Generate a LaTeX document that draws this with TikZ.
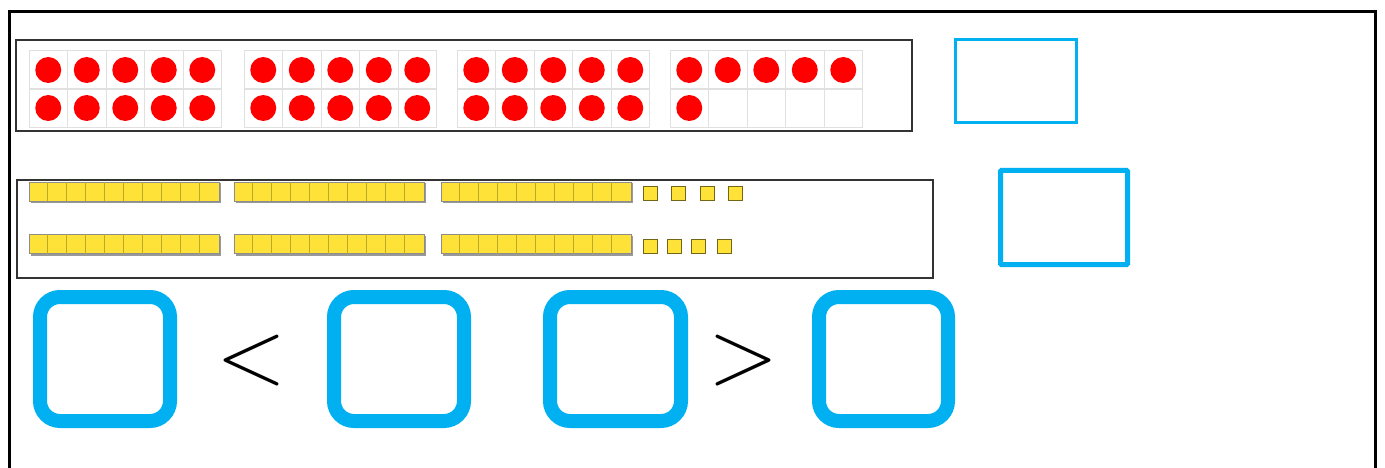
\documentclass[tikz,border=0pt]{standalone}
\usepackage{fontspec}
\usetikzlibrary{positioning}

\definecolor{cyanbox}{RGB}{0,176,240}
\definecolor{dotred}{RGB}{255,0,0}
\definecolor{rodyellow}{RGB}{255,226,55}

\tikzstyle{frame}    = [draw=black!80, line width=1.3pt]
\tikzstyle{cell}     = [draw=black!12, line width=0.8pt, minimum size=38.5pt, inner sep=0pt, outer sep=0pt]
\tikzstyle{dot}      = [circle, fill=dotred, minimum size=26pt, inner sep=0pt]
\tikzstyle{rod}      = [fill=rodyellow, draw=black!45, line width=0.8pt, minimum width=190pt, minimum height=19pt, inner sep=0pt]
\tikzstyle{rodline}  = [draw=rodyellow!75!black, line width=0.6pt]
\tikzstyle{unit}     = [fill=rodyellow, draw=rodyellow!45!black, line width=0.9pt, minimum size=14pt, inner sep=0pt]
\tikzstyle{answer}   = [draw=cyanbox, inner sep=0pt]
\tikzstyle{bigbox}   = [draw=cyanbox, line width=14pt, rounded corners=20pt, minimum height=124pt, inner sep=0pt]
\tikzstyle{sign}     = [inner sep=0pt, font=\fontsize{92}{92}\selectfont]

\begin{document}
\begin{tikzpicture}[x=1pt, y=-1pt]
  \useasboundingbox (0,0) rectangle (1385,468);
  % page frame, bottom edge cut off
  \draw[line width=3pt] (9.5,480) -- (9.5,11.5) -- (1375.5,11.5) -- (1375.5,480);

  % ten frames
  \draw[frame] (16,40) rectangle (912,131);
  \foreach \f/\fx in {1/29, 2/244, 3/457, 4/670}
    \foreach \r in {1,2}
      \foreach \c in {1,...,5}
        \node[cell] (f\f-\r\c) at (\fx+38.5*\c-19.25, 51+38*\r-19) {};
  \foreach \f in {1,2,3}
    \foreach \r in {1,2}
      \foreach \c in {1,...,5}
        \node[dot] at (f\f-\r\c) {};
  \foreach \c in {1,...,5}
    \node[dot] at (f4-1\c) {};
  \node[dot] at (f4-21) {};

  % tens and ones
  \draw[frame] (17,180) rectangle (933,278);
  \foreach \r/\ry in {1/191.5, 2/244}
    \foreach \k/\rx in {1/29, 2/234, 3/441} {
      \fill[black!40] (\rx+2,\ry-8) rectangle (\rx+192,\ry+11.5);
      \node[rod] (rod\r\k) at (\rx+95,\ry) {};
      \foreach \i in {1,...,9}
        \draw[rodline] ([xshift=19*\i pt]rod\r\k.north west) -- ([xshift=19*\i pt]rod\r\k.south west);
    }
  \foreach \u/\ux in {1/650, 2/678, 3/707, 4/735}
    \node[unit] (one1\u) at (\ux,193.5) {};
  \foreach \u/\ux in {1/650, 2/674, 3/698, 4/724}
    \node[unit] (one2\u) at (\ux,246) {};

  % answer boxes
  \node[answer, line width=3pt, minimum width=121pt, minimum height=83pt] (ans1) at (1016,81) {};
  \node[answer, line width=5pt, rounded corners=1pt, minimum width=127pt, minimum height=94pt] (ans2) at (1064,217.5) {};

  % comparison
  \node[bigbox, minimum width=130pt] (cmpa) at (105,359) {};
  \node[sign] (less) at (252,361) {<};
  \node[bigbox, minimum width=130pt] (cmpb) at (399,359) {};
  \node[bigbox, minimum width=131pt] (cmpc) at (615.5,359) {};
  \node[sign] (more) at (744,361) {>};
  \node[bigbox, minimum width=129pt] (cmpd) at (883.5,359) {};
\end{tikzpicture}
\end{document}
